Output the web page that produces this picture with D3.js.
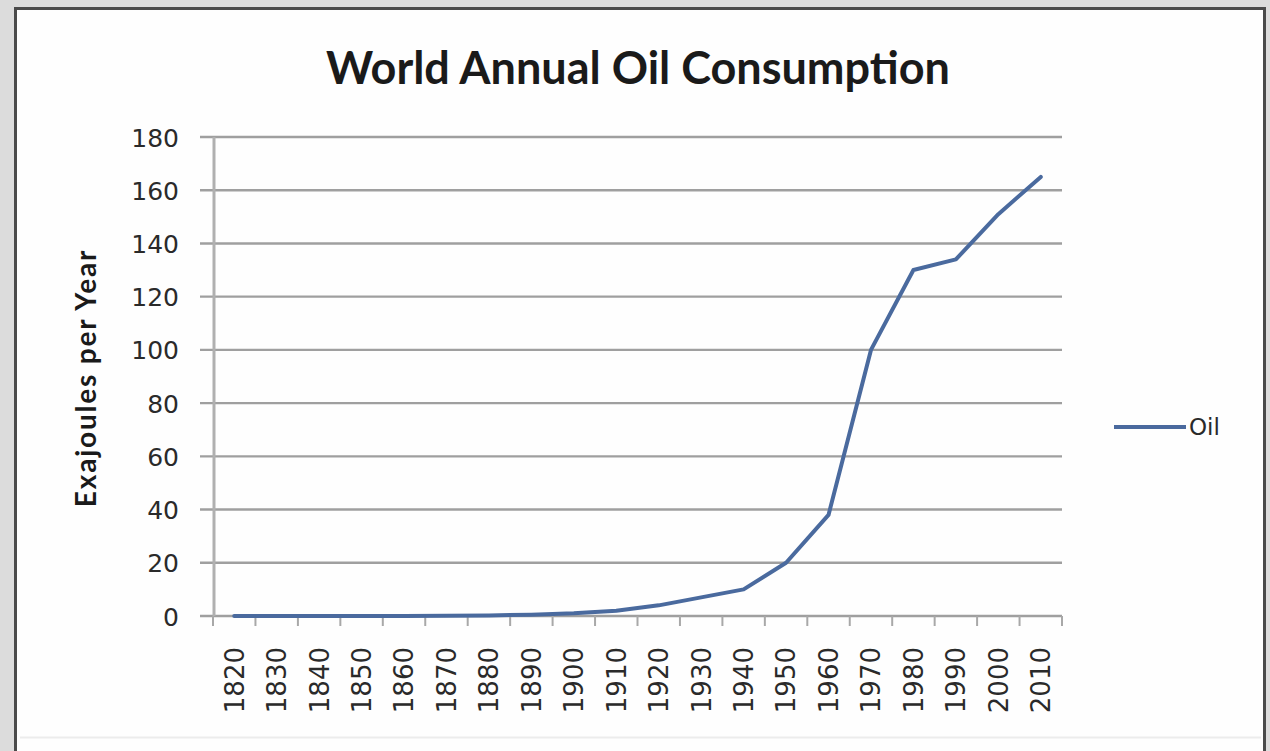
<!DOCTYPE html>
<html>
<head>
<meta charset="utf-8">
<script src="https://cdn.jsdelivr.net/npm/d3@7/dist/d3.min.js"></script>
<style>
  html, body { margin: 0; padding: 0; background: #dcdcdc; }
  svg { display: block; }
</style>
</head>
<body>
<svg id="chart" width="1270" height="751"></svg>
<script>
// World annual oil consumption, exajoules per year, by decade
const years = ["1820","1830","1840","1850","1860","1870","1880","1890","1900","1910",
               "1920","1930","1940","1950","1960","1970","1980","1990","2000","2010"];
const oil = [0, 0, 0, 0, 0, 0.05, 0.2, 0.5, 1, 2,
             4, 7, 10, 20, 38, 100, 130, 134, 151, 165];
const yTicks = [0, 20, 40, 60, 80, 100, 120, 140, 160, 180];
const seriesName = "Oil";

const svg = d3.select("#chart");
const W = 1270, H = 751;

// page frame and white chart panel
svg.append("rect").attr("x", 0).attr("y", 0).attr("width", W).attr("height", H).attr("fill", "#dcdcdc");
svg.append("rect").attr("x", 15.5).attr("y", 8.5).attr("width", 1249).attr("height", H)
  .attr("fill", "#fefefe").attr("stroke", "#4a4a4a").attr("stroke-width", 3);
svg.append("line").attr("x1", 20).attr("x2", 1261).attr("y1", 737.5).attr("y2", 737.5)
  .attr("stroke", "#ececec").attr("stroke-width", 2);

const plotL = 213, plotR = 1062, plotT = 137, plotB = 616;

const x = d3.scaleBand().domain(years).range([plotL, plotR]).paddingInner(0).paddingOuter(0);
const y = d3.scaleLinear().domain([0, 180]).range([plotB, plotT]);

const gridColor = "#9f9f9f";

// horizontal gridlines (extend a little left of the axis as tick marks)
svg.append("g").selectAll("line").data(yTicks).join("line")
  .attr("x1", plotL - 13).attr("x2", plotR)
  .attr("y1", d => y(d)).attr("y2", d => y(d))
  .attr("stroke", gridColor)
  .attr("stroke-width", 2.4);

// vertical axis line
svg.append("line").attr("x1", plotL + 1).attr("x2", plotL + 1).attr("y1", plotT).attr("y2", plotB)
  .attr("stroke", "#b0b0b0").attr("stroke-width", 3);

// y tick labels
const yAxis = d3.axisLeft(y).tickValues(yTicks).tickSize(0).tickPadding(0);
const gy = svg.append("g").attr("transform", `translate(${plotL - 34},0)`).call(yAxis);
gy.select(".domain").remove();
gy.selectAll("text")
  .attr("font-family", "'DejaVu Sans', sans-serif")
  .attr("font-size", 25).attr("fill", "#2a2a2a").attr("dy", "0.36em");

// category ticks between decades
const bounds = years.map(d => x(d)).concat([x(years[years.length - 1]) + x.step()]);
svg.append("g").selectAll("line").data(bounds).join("line")
  .attr("x1", d => d).attr("x2", d => d)
  .attr("y1", plotB).attr("y2", plotB + 10)
  .attr("stroke", "#a8a8a8").attr("stroke-width", 2);

// rotated year labels
const xAxis = d3.axisBottom(x).tickSize(0).tickPadding(0);
const gx = svg.append("g").attr("transform", `translate(0,${plotB + 31})`).call(xAxis);
gx.select(".domain").remove();
gx.selectAll("text")
  .attr("font-family", "'DejaVu Sans', sans-serif")
  .attr("font-size", 26).attr("fill", "#2a2a2a")
  .attr("transform", "rotate(-90)")
  .attr("text-anchor", "end")
  .attr("x", 0).attr("y", 0).attr("dx", 0).attr("dy", "0.36em");

// series line
const line = d3.line()
  .x((d, i) => x(years[i]) + x.bandwidth() / 2)
  .y(d => y(d));
svg.append("path").datum(oil)
  .attr("d", line)
  .attr("fill", "none")
  .attr("stroke", "#4a6a9e")
  .attr("stroke-width", 4)
  .attr("stroke-linejoin", "round")
  .attr("stroke-linecap", "round");

// title
svg.append("text").attr("x", 638).attr("y", 84)
  .attr("text-anchor", "middle")
  .attr("font-family", "Lato, sans-serif").attr("font-weight", "bold")
  .attr("font-size", 45).attr("fill", "#1a1a1a")
  .text("World Annual Oil Consumption");

// y axis title
svg.append("text")
  .attr("transform", "translate(96,378) rotate(-90)")
  .attr("text-anchor", "middle")
  .attr("font-family", "Lato, sans-serif").attr("font-weight", "bold")
  .attr("font-size", 28).attr("letter-spacing", 1.8).attr("fill", "#1a1a1a")
  .text("Exajoules per Year");

// legend
const lg = svg.append("g").attr("transform", "translate(1114,427)");
lg.append("line").attr("x1", 0).attr("x2", 72).attr("y1", 0).attr("y2", 0)
  .attr("stroke", "#4a6a9e").attr("stroke-width", 4);
lg.append("text").attr("x", 75).attr("y", 0).attr("dy", "0.36em")
  .attr("font-family", "'DejaVu Sans', sans-serif")
  .attr("font-size", 23).attr("fill", "#2a2a2a")
  .text(seriesName);
</script>
</body>
</html>
